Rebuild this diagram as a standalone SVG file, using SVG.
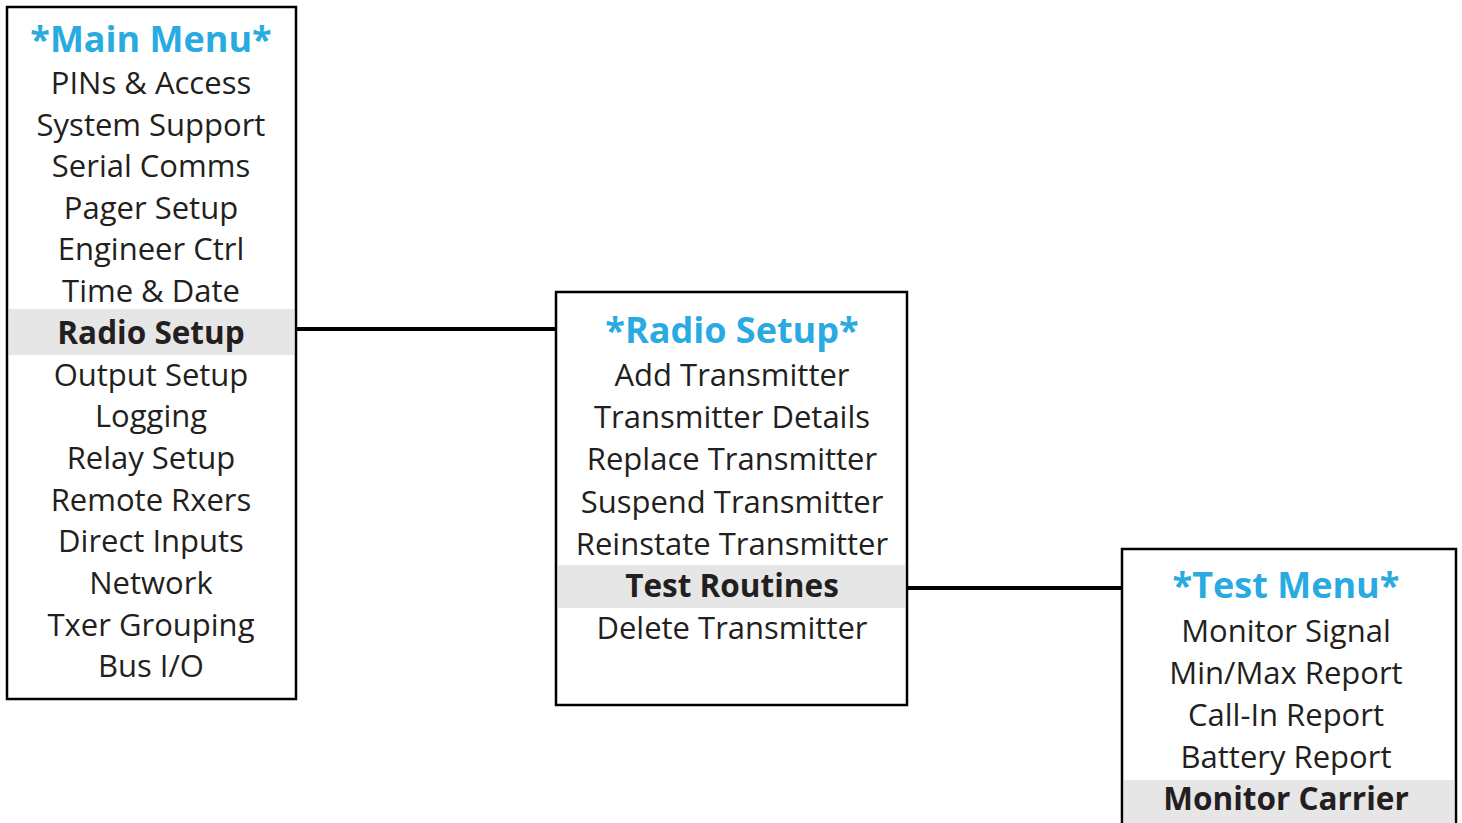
<svg xmlns="http://www.w3.org/2000/svg" width="1462" height="823" viewBox="0 0 1462 823">
<style>
.box{fill:#fff;stroke:#000;stroke-width:2.5}
.hl{fill:#e6e6e6}
.t{font-family:"Open Sans","Liberation Sans",sans-serif;font-size:31px;fill:#231f20;text-anchor:middle}
.b{font-weight:bold;font-size:31.5px}
.h{font-family:"Open Sans","Liberation Sans",sans-serif;font-size:36px;font-weight:bold;fill:#29abe2;text-anchor:middle}
.c{stroke:#000;stroke-width:4;fill:none}
</style>
<g id="connectors">
<line class="c" x1="297" y1="329" x2="556" y2="329"/>
<line class="c" x1="907" y1="588" x2="1122" y2="588"/>
</g>
<g id="main-menu">
<rect class="box" x="7" y="7" width="289" height="692"/>
<rect class="hl" x="9" y="309" width="285" height="46"/>
<text class="h" x="151" y="52">*Main Menu*</text>
<text class="t" x="151" y="94">PINs &amp; Access</text>
<text class="t" x="151" y="136">System Support</text>
<text class="t" x="151" y="177">Serial Comms</text>
<text class="t" x="151" y="219">Pager Setup</text>
<text class="t" x="151" y="260">Engineer Ctrl</text>
<text class="t" x="151" y="302">Time &amp; Date</text>
<text class="t b" x="151" y="344">Radio Setup</text>
<text class="t" x="151" y="386">Output Setup</text>
<text class="t" x="151" y="427">Logging</text>
<text class="t" x="151" y="469">Relay Setup</text>
<text class="t" x="151" y="511">Remote Rxers</text>
<text class="t" x="151" y="552">Direct Inputs</text>
<text class="t" x="151" y="594">Network</text>
<text class="t" x="151" y="636">Txer Grouping</text>
<text class="t" x="151" y="677">Bus I/O</text>
</g>
<g id="radio-setup">
<rect class="box" x="556" y="292" width="351" height="413"/>
<rect class="hl" x="558" y="565" width="347" height="43"/>
<text class="h" x="732" y="343">*Radio Setup*</text>
<text class="t" x="732" y="386">Add Transmitter</text>
<text class="t" x="732" y="428">Transmitter Details</text>
<text class="t" x="732" y="470">Replace Transmitter</text>
<text class="t" x="732" y="513">Suspend Transmitter</text>
<text class="t" x="732" y="555">Reinstate Transmitter</text>
<text class="t b" x="732" y="597">Test Routines</text>
<text class="t" x="732" y="639">Delete Transmitter</text>
</g>
<g id="test-menu">
<rect class="box" x="1122" y="549" width="334" height="290"/>
<rect class="hl" x="1124" y="780" width="330" height="45"/>
<text class="h" x="1286" y="598">*Test Menu*</text>
<text class="t" x="1286" y="642">Monitor Signal</text>
<text class="t" x="1286" y="684">Min/Max Report</text>
<text class="t" x="1286" y="726">Call-In Report</text>
<text class="t" x="1286" y="768">Battery Report</text>
<text class="t b" x="1286" y="810">Monitor Carrier</text>
</g>
</svg>
